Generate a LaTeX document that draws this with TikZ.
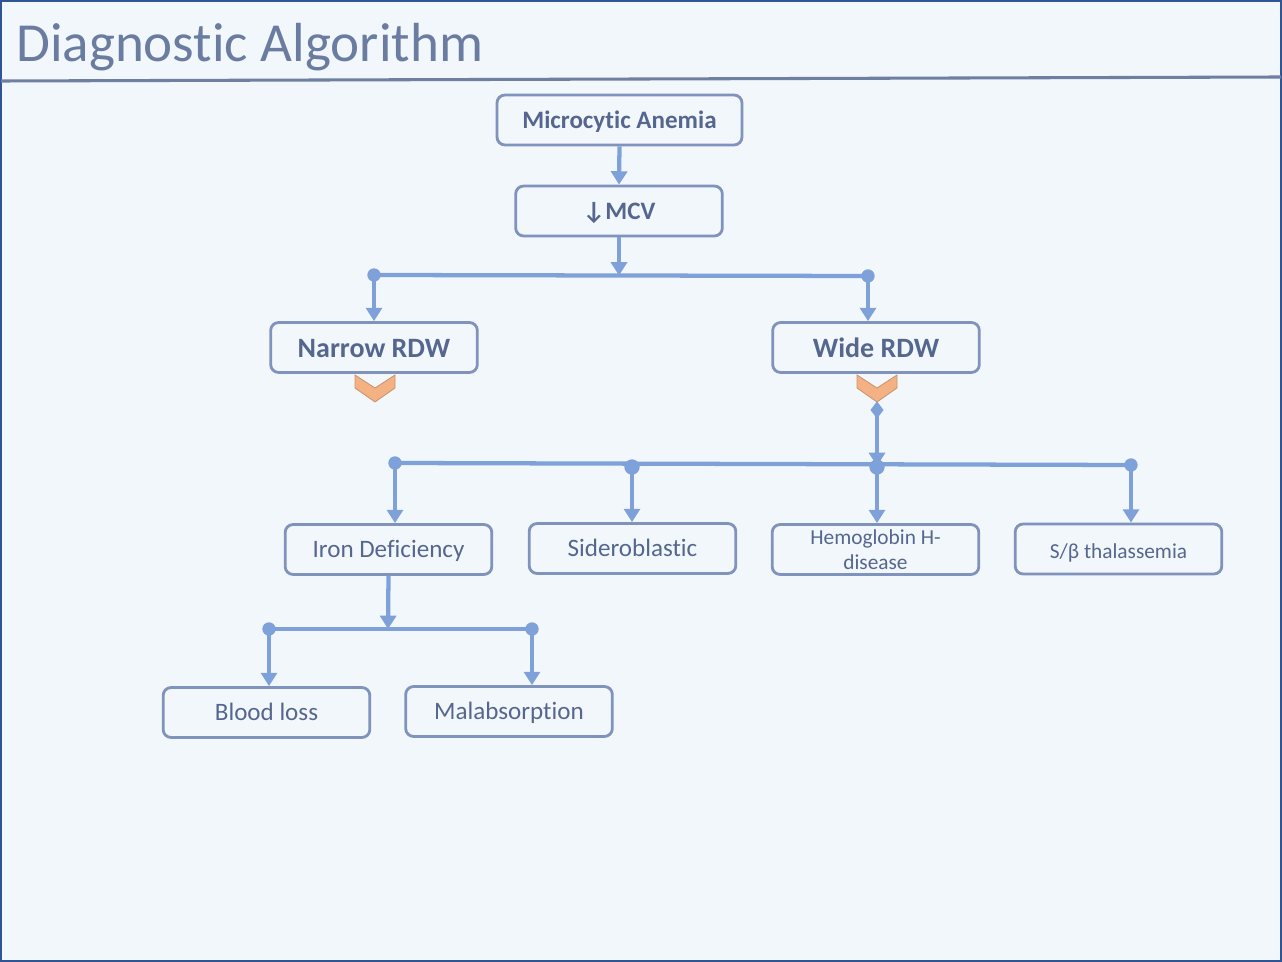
\documentclass[tikz,border=0pt]{standalone}
\usepackage{fontspec}
\setmainfont[Ligatures={NoCommon}]{Carlito}
\usetikzlibrary{arrows.meta,shapes.geometric}
\definecolor{bgc}{HTML}{F2F7FC}
\definecolor{framec}{HTML}{2F5597}
\definecolor{titlec}{HTML}{6A7CA0}
\definecolor{rulec}{HTML}{6E7FA2}
\definecolor{boxc}{HTML}{7F93BC}
\definecolor{txtc}{HTML}{55678F}
\definecolor{linkc}{HTML}{7FA1DA}
\definecolor{chevf}{HTML}{F4B183}
\definecolor{chevd}{HTML}{C8936A}
\tikzset{
  box/.style={draw=boxc, line width=2.1pt, rounded corners=6pt, fill=bgc,
    minimum width=155pt, minimum height=37.5pt, inner sep=0pt, text=txtc, align=center},
  bigbold/.style={font=\fontsize{21}{25}\selectfont\bfseries, text height=15pt, text depth=0pt},
  midbold/.style={font=\fontsize{18.8}{22}\selectfont\bfseries, text height=12.8pt, text depth=0pt},
  reg/.style={font=\fontsize{18.8}{22}\selectfont, text height=12.5pt, text depth=0pt},
  small/.style={font=\fontsize{16}{18.75}\selectfont},
  sline/.style={text height=14.5pt, text depth=0pt},
  link/.style={draw=linkc, line width=3.2pt},
  arr/.style={link, -{Triangle[width=12pt,length=10pt]}},
  dot/.style={circle, fill=linkc, inner sep=0pt, minimum size=10pt},
  bigdot/.style={circle, fill=linkc, inner sep=0pt, minimum size=11.5pt},
  chev/.style={fill=chevf, draw=chevd, line width=0.6pt},
}
\begin{document}
\begin{tikzpicture}[x=0.75pt, y=-0.75pt]
\fill[bgc] (0,0) rectangle (1282,962);
\useasboundingbox (0,0) rectangle (1282,962);
\draw[framec, line width=1.5pt] (0.75,0.75) rectangle (1281.25,961.25);
\node[anchor=base west, text=titlec, inner sep=0pt, font=\fontsize{41.3}{46}\selectfont] (title) at (16,62) {Diagnostic Algorithm};
\draw[rulec, line width=2.3pt] (1,81) -- (1281,77);

% boxes
\node[box, midbold, minimum width=183.75pt] (ma) at (619.5,120) {Microcytic Anemia};
\node[box, midbold] (mcv) at (619,211) {↓MCV};
\node[box, bigbold] (nr) at (374,347.5) {Narrow RDW};
\node[box, bigbold] (wr) at (876,347.5) {Wide RDW};
\node[box, reg] (iron) at (388.5,549.5) {Iron Deficiency};
\node[box, reg] (sid) at (632.5,548.5) {Sideroblastic};
\node[box, small] (hb) at (875.5,549.5) {Hemoglobin H-\\disease};
\node[box, small, sline] (sb) at (1118.5,549) {S/β thalassemia};
\node[box, reg] (bl) at (266.5,712.5) {Blood loss};
\node[box, reg] (mal) at (509,711.5) {Malabsorption};

% chevrons
\filldraw[chev] (355,375) -- (375,388) -- (395,375) -- (395,388) -- (375,402) -- (355,388) -- cycle;
\filldraw[chev] (857,375) -- (877,388) -- (897,375) -- (897,388) -- (877,402) -- (857,388) -- cycle;

% level 1
\draw[arr] (ma.south) -- (mcv.north);

% split to RDW
\node[dot] (d1l) at (374,275) {};
\node[dot] (d1r) at (868,276) {};
\coordinate (j1) at (619,275.5);
\draw[link] (d1l.center) -- (d1r.center);
\draw[arr] (mcv.south) -- (j1);
\draw[arr] (d1l.center) -- (d1l.center |- nr.north);
\draw[arr] (d1r.center) -- (d1r.center |- wr.north);

% from Wide RDW to types
\node[diamond, fill=linkc, inner sep=0pt, minimum width=10pt, minimum height=13pt] (dia) at (877,410) {};
\node[dot] (d2a) at (395,463) {};
\node[bigdot] (d2b) at (632,467) {};
\node[bigdot] (d2c) at (877,467) {};
\node[dot] (d2d) at (1131,465) {};
\draw[link] (d2a.center) -- (d2d.center);
\draw[arr] (dia.center) -- (877,466);
\draw[arr] (d2a.center) -- (d2a.center |- iron.north);
\draw[arr] (d2b.center) -- (d2b.center |- sid.north);
\draw[arr] (d2c.center) -- (d2c.center |- hb.north);
\draw[arr] (d2d.center) -- (d2d.center |- sb.north);

% iron deficiency split
\node[dot] (d3l) at (269,629) {};
\node[dot] (d3r) at (532,629) {};
\coordinate (j3) at (388,629);
\draw[link] (d3l.center) -- (d3r.center);
\draw[arr] (iron.south) -- (j3);
\draw[arr] (d3l.center) -- (d3l.center |- bl.north);
\draw[arr] (d3r.center) -- (d3r.center |- mal.north);
\end{tikzpicture}
\end{document}
